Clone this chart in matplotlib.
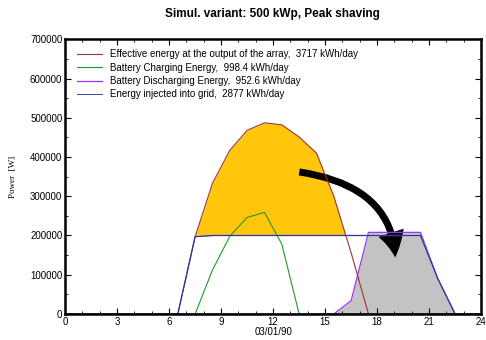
import matplotlib
matplotlib.use("Agg")
import matplotlib.pyplot as plt
from matplotlib.patches import FancyArrowPatch
from matplotlib.ticker import MultipleLocator
import numpy as np

plt.rcParams['font.family'] = ['Liberation Sans', 'DejaVu Sans']

# hourly values (W), hour centres
hours = [0.5, 1.5, 2.5, 3.5, 4.5, 5.5, 6.5, 7.5, 8.5, 9.5, 10.5, 11.5,
         12.5, 13.5, 14.5, 15.5, 16.5, 17.5, 18.5, 19.5, 20.5, 21.5, 22.5, 23.5]
effective = [0, 0, 0, 0, 0, 0, 0, 197000, 333000, 417000, 468000, 487000,
             482000, 451000, 410000, 300000, 156000, 0, 0, 0, 0, 0, 0, 0]
charging = [0, 0, 0, 0, 0, 0, 0, 0, 112000, 198000, 246000, 259000,
            178000, 0, 0, 0, 0, 0, 0, 0, 0, 0, 0, 0]
discharging = [0, 0, 0, 0, 0, 0, 0, 0, 0, 0, 0, 0,
               0, 0, 0, 0, 34000, 208000, 208000, 208000, 208000, 90000, 0, 0]
grid = [0, 0, 0, 0, 0, 0, 0, 197000, 200000, 200000, 200000, 200000,
        200000, 200000, 200000, 200000, 200000, 200000, 200000, 200000, 200000, 90000, 0, 0]

labels = ["Effective energy at the output of the array,  3717 kWh/day",
          "Battery Charging Energy,  998.4 kWh/day",
          "Battery Discharging Energy,  952.6 kWh/day",
          "Energy injected into grid,  2877 kWh/day"]

x = np.array([0.0] + hours + [24.0])
eff = np.array([0] + effective + [0], dtype=float)
chg = np.array([0] + charging + [0], dtype=float)
dis = np.array([0] + discharging + [0], dtype=float)
grd = np.array([0] + grid + [0], dtype=float)

fig = plt.figure(figsize=(4.86, 3.40), dpi=100)
ax = fig.add_axes([0.134, 0.0765, 0.856, 0.808])

# fine grid for the yellow fill
xf = np.linspace(0, 24, 2401)
ef = np.interp(xf, x, eff)
gf = np.interp(xf, x, grd)
ax.fill_between(xf, gf, ef, where=ef > gf, color='#ffc60b', lw=0, interpolate=True)
ax.fill_between(x, 0, dis, color='#c3c3c3', lw=0)

ax.plot(x, chg, color='#229922', lw=0.8, label=labels[1])
ax.plot(x, dis, color='#9933ff', lw=0.9, label=labels[2])
ax.plot(x, eff, color='#9a3535', lw=0.8, label=labels[0])
ax.plot(x, grd, color='#7777cc', lw=1.0)
ax.plot(x, grd, color='#22228a', lw=0.6, label=labels[3])

ax.set_xlim(0, 24)
ax.set_ylim(0, 700000)
ax.xaxis.set_major_locator(MultipleLocator(3))
ax.xaxis.set_minor_locator(MultipleLocator(1))
ax.yaxis.set_major_locator(MultipleLocator(100000))
ax.yaxis.set_minor_locator(MultipleLocator(50000))
ax.tick_params(which='both', direction='in', top=True, right=True, labelsize=7, pad=2)
ax.tick_params(which='major', length=4, width=0.8)
ax.tick_params(which='minor', length=2.5, width=0.6)
for s in ax.spines.values():
    s.set_linewidth(1.8)

ax.set_xlabel("03/01/90", fontsize=7, labelpad=0)
ax.set_ylabel("Power  [W]", fontsize=6.5, family='Liberation Serif', labelpad=9)
fig.suptitle("Simul. variant: 500 kWp, Peak shaving", fontsize=8.5, fontweight='bold',
             y=0.975, x=0.56)

h, l = ax.get_legend_handles_labels()
order = [l.index(t) for t in labels]
ax.legend([h[i] for i in order], [l[i] for i in order], loc='upper left', frameon=False,
          fontsize=7, handlelength=2.6, handletextpad=0.8, labelspacing=0.35,
          borderaxespad=0.2, bbox_to_anchor=(0.015, 0.985))

# curved arrow: excess energy shifted to the evening
arrow = FancyArrowPatch((13.35, 363000), (19.05, 137000),
                        connectionstyle="angle3,angleA=-8,angleB=91",
                        arrowstyle="simple,tail_width=0.42,head_width=1.6,head_length=1.5",
                        mutation_scale=12, color='black', lw=0)
ax.add_patch(arrow)

fig.savefig("out.png", dpi=100)
